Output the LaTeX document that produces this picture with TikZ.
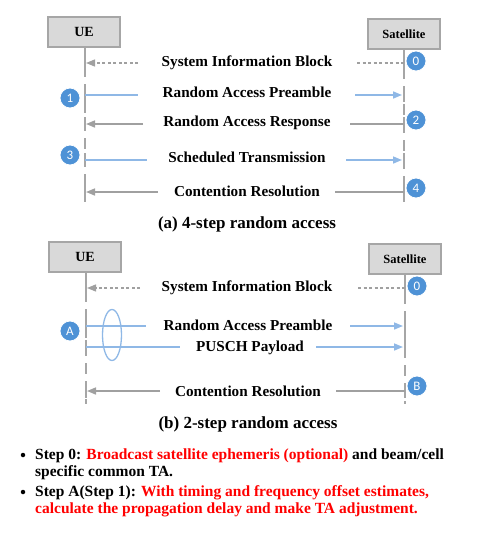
\documentclass[tikz,border=0pt]{standalone}
\usepackage{fontspec}
\setmainfont{Liberation Serif}
\newfontfamily\badgefont{Carlito}
\usetikzlibrary{arrows.meta,shapes.geometric}
\definecolor{boxfill}{HTML}{D9D9D9}
\definecolor{boxgray}{HTML}{A6A6A6}
\definecolor{lifegray}{HTML}{A6A6A6}
\definecolor{arrgray}{HTML}{A0A0A0}
\definecolor{blueline}{HTML}{8FB8E6}
\definecolor{badgeblue}{HTML}{4E92D6}
\definecolor{redtxt}{HTML}{FF0000}
\tikzset{
  actor/.style={draw=boxgray, line width=2pt, fill=boxfill, minimum width=72pt, minimum height=30pt, inner sep=0pt},
  lifeline/.style={draw=lifegray, line width=2pt, dash pattern=on 11pt off 7pt},
  tick/.style={draw=lifegray, line width=2pt},
  msg/.style={font=\fontsize{15.2}{18}\selectfont\bfseries, inner sep=0pt},
  caption/.style={font=\fontsize{17}{20}\selectfont\bfseries, inner sep=0pt},
  grayarrow/.style={draw=arrgray, line width=1.6pt, -{Triangle[length=9pt,width=7pt]}},
  grayline/.style={draw=arrgray, line width=1.6pt},
  graydash/.style={draw=arrgray, line width=1.3pt, dash pattern=on 3pt off 2.5pt},
  graydasharrow/.style={draw=arrgray, line width=1.3pt, dash pattern=on 3pt off 2.5pt, -{Triangle[length=9pt,width=7pt]}},
  bluearrow/.style={draw=blueline, line width=1.6pt, -{Triangle[length=9pt,width=7pt]}},
  blueplain/.style={draw=blueline, line width=1.6pt},
  badge/.style={circle, fill=badgeblue, draw=white, line width=0.8pt, text=white, minimum size=20pt, inner sep=0pt, font=\badgefont\fontsize{13}{13}\selectfont},
  bullettext/.style={anchor=base west, inner sep=0pt, font=\fontsize{15.5}{17}\selectfont\bfseries},
  bulletdot/.style={circle, fill=black, minimum size=4.5pt, inner sep=0pt},
}
\begin{document}
\begin{tikzpicture}[x=1pt,y=-1pt]
\useasboundingbox (0,0) rectangle (490,544);

% ===== (a) 4-step =====
\node[actor, font=\fontsize{14}{16}\selectfont\bfseries] (ueA) at (84,32) {UE};
\node[actor, font=\fontsize{12.5}{14}\selectfont\bfseries] (satA) at (404,34) {Satellite};
\coordinate (ueAend) at (85,202);
\coordinate (satAend) at (404,202);
\draw[lifeline] (ueA.south -| ueAend) -- (ueAend);
\draw[lifeline] (satA.south -| satAend) -- (satAend);

\node[msg] (a0) at (247,63) {System Information Block};
\node[msg] (a1) at (247,92) {Random Access Preamble};
\node[msg] (a2) at (247,123) {Random Access Response};
\node[msg] (a3) at (247,157) {Scheduled Transmission};
\node[msg] (a4) at (247,191) {Contention Resolution};

\foreach \yy in {63,95,124,160,192}{
  \draw[tick] (85,\yy-7) -- (85,\yy+7);
  \draw[tick] (404,\yy-7) -- (404,\yy+7);
}

\coordinate (a0l) at (138,63); \coordinate (a0r) at (357,63);
\draw[graydasharrow] (a0l) -- ([xshift=1pt]ueAend |- a0l);
\draw[graydash] (a0r) -- (satAend |- a0r);

\coordinate (a1l) at (138,95); \coordinate (a1r) at (355,95);
\draw[blueplain] (ueAend |- a1l) -- (a1l);
\draw[bluearrow] (a1r) -- ([xshift=-2pt]satAend |- a1r);

\coordinate (a2l) at (143,124); \coordinate (a2r) at (350,124);
\draw[grayarrow] (a2l) -- ([xshift=1pt]ueAend |- a2l);
\draw[grayline] (a2r) -- (satAend |- a2r);

\coordinate (a3l) at (147,160); \coordinate (a3r) at (346,160);
\draw[blueplain] (ueAend |- a3l) -- (a3l);
\draw[bluearrow] (a3r) -- ([xshift=-2pt]satAend |- a3r);

\coordinate (a4l) at (158,192); \coordinate (a4r) at (335,192);
\draw[grayarrow] (a4l) -- ([xshift=1pt]ueAend |- a4l);
\draw[grayline] (a4r) -- (satAend |- a4r);

\node[badge] (b0) at (416,61) {0};
\node[badge] (b1) at (70,98) {1};
\node[badge] (b2) at (416,120) {2};
\node[badge] (b3) at (70,155) {3};
\node[badge] (b4) at (416,188) {4};

\node[caption] (capA) at (247,224) {(a) 4-step random access};

% ===== (b) 2-step =====
\node[actor, font=\fontsize{14}{16}\selectfont\bfseries] (ueB) at (85,257) {UE};
\node[actor, font=\fontsize{12.5}{14}\selectfont\bfseries] (satB) at (405,259) {Satellite};
\coordinate (ueBend) at (86,404);
\coordinate (satBend) at (405,404);
\draw[lifeline] (ueB.south -| ueBend) -- (ueBend);
\draw[lifeline] (satB.south -| satBend) -- (satBend);

\node[msg] (m0) at (247,288) {System Information Block};
\node[msg] (m1) at (248,325) {Random Access Preamble};
\node[msg] (m2) at (250,348) {PUSCH Payload};
\node[msg] (m3) at (248,391) {Contention Resolution};

\foreach \yy in {288,326,347,391}{
  \draw[tick] (86,\yy-7) -- (86,\yy+7);
  \draw[tick] (405,\yy-7) -- (405,\yy+7);
}

\coordinate (m0l) at (140,288); \coordinate (m0r) at (358,288);
\draw[graydasharrow] (m0l) -- ([xshift=1pt]ueBend |- m0l);
\draw[graydash] (m0r) -- (satBend |- m0r);

\coordinate (m1l) at (146,326); \coordinate (m1r) at (350,326);
\draw[blueplain] (ueBend |- m1l) -- (m1l);
\draw[bluearrow] (m1r) -- ([xshift=-2pt]satBend |- m1r);

\coordinate (m2l) at (180,347); \coordinate (m2r) at (316,347);
\draw[blueplain] (ueBend |- m2l) -- (m2l);
\draw[bluearrow] (m2r) -- ([xshift=-2pt]satBend |- m2r);

\coordinate (m3l) at (160,391); \coordinate (m3r) at (336,391);
\draw[grayarrow] (m3l) -- ([xshift=1pt]ueBend |- m3l);
\draw[grayline] (m3r) -- (satBend |- m3r);

\node[ellipse, draw=blueline, line width=1.3pt, minimum width=19pt, minimum height=51pt, inner sep=0pt] (grp) at (112,335) {};

\node[badge] (bB0) at (417,286) {0};
\node[badge] (bA) at (70,331) {A};
\node[badge] (bB) at (417,386) {B};

\node[caption] (capB) at (248,424) {(b) 2-step random access};

% ===== bullets =====
\node[bulletdot] (d1) at (23,455) {};
\node[bullettext] (t1) at (35,459) {Step 0: \textcolor{redtxt}{Broadcast satellite ephemeris (optional)} and beam/cell};
\node[bullettext] (t2) at (35,476) {specific common TA.};
\node[bulletdot] (d2) at (23,492) {};
\node[bullettext] (t3) at (35,496) {Step A(Step 1): \textcolor{redtxt}{With timing and frequency offset estimates,}};
\node[bullettext] (t4) at (35,513) {\textcolor{redtxt}{calculate the propagation delay and make TA adjustment.}};
\end{tikzpicture}
\end{document}
